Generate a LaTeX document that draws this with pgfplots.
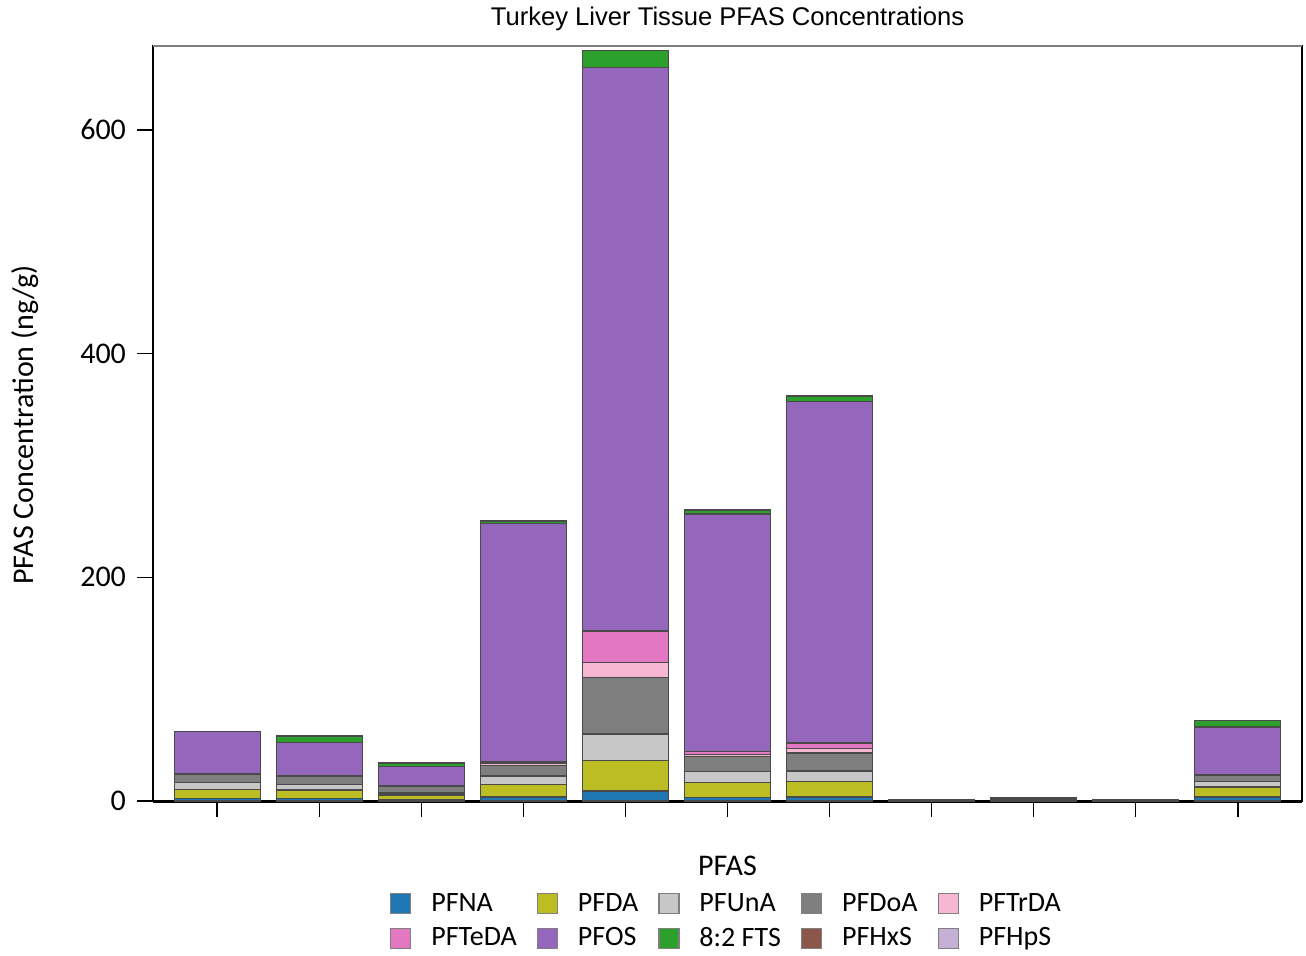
\documentclass[border=0pt]{standalone}
\usepackage{fontspec}
\setmainfont{Carlito}
\newfontfamily\titlefont{Liberation Sans}
\usepackage{pgfplots}
\pgfplotsset{compat=1.18}
\usepackage{pgfplotstable}

\definecolor{cPFNA}{HTML}{1F77B4}
\definecolor{cPFDA}{HTML}{BCBD22}
\definecolor{cPFUnA}{HTML}{C7C7C7}
\definecolor{cPFDoA}{HTML}{7F7F7F}
\definecolor{cPFTrDA}{HTML}{F7B6D2}
\definecolor{cPFTeDA}{HTML}{E377C2}
\definecolor{cPFOS}{HTML}{9467BD}
\definecolor{cFTS}{HTML}{2CA02C}
\definecolor{cPFHxS}{HTML}{8C564B}
\definecolor{cPFHpS}{HTML}{C5B0D5}
\definecolor{edgec}{HTML}{4A4A4A}

\pgfplotstableread{
x  PFNA PFDA PFUnA PFDoA PFTrDA PFTeDA PFOS  FTS PFHxS PFHpS
0  2.5  8.0  6.0   7.0   0.5    0.3    38.0  0.0 0 0
1  2.5  7.5  4.5   7.5   0.5    0.3    29.7  5.5 0 0
2  1.5  4.0  1.5   5.8   0.3    0.2    17.7  3.0 0 0
3  3.5  11.5 7.5   9.5   2.0    1.5    212.5 2.5 0 0
4  9.0  27.0 24.0  50.5  13.5   28.0   504.0 15.0 0 0
5  3.3  13.0 10.0  13.4  2.0    2.5    212.5 3.3 0 0
6  3.5  14.0 9.5   16.0  4.0    5.0    305.0 5.0 0 0
7  0.2  0.3  0.2   0.5   0.0    0.0    0.3   0.0 0 0
8  0.4  0.6  0.4   0.8   0.0    0.0    0.8   0.0 0 0
9  0.2  0.3  0.2   0.5   0.0    0.0    0.3   0.0 0 0
10 3.5  9.0  5.0   5.5   0.5    0.3    42.2  6.0 0 0
}\data

\begin{document}
\begin{tikzpicture}
\useasboundingbox (-76.5pt,-77pt) rectangle (576.5pt,400.5pt);
\begin{axis}[
  at={(0pt,0pt)}, anchor=south west,
  scale only axis, width=574.5pt, height=377.5pt,
  ybar stacked, bar width=43pt,
  xmin=-0.63, xmax=10.63, ymin=0, ymax=675,
  xtick={0,...,10}, xticklabels={},
  ytick={0,200,400,600},
  tick align=outside, major tick length=8pt,
  xtick pos=bottom, ytick pos=left,
  tick style={black, line width=0.8pt},
  axis line style={black, line width=0.8pt},
  /pgf/number format/assume math mode=true,
  tick label style={font=\fontsize{15}{18}\selectfont},
  yticklabel style={xshift=-2pt},
  ylabel={PFAS Concentration (ng/g)},
  ylabel style={font=\fontsize{15}{18}\selectfont, at={(axis description cs:-0.111,0.498)}, anchor=center},
  xlabel={PFAS},
  xlabel style={font=\fontsize{15}{18}\selectfont, at={(axis description cs:0.5,-0.086)}, anchor=center},
  legend columns=5,
  legend style={at={(0.5,-0.111)}, anchor=north, draw=none, fill=none,
    font=\fontsize{14}{17}\selectfont, column sep=8pt, row sep=2.5pt,
    /tikz/every even column/.append style={column sep=8pt}},
  legend image code/.code={\draw[#1, draw=gray, line width=0.6pt] (0pt,-5pt) rectangle (10pt,5pt);},
  every axis plot/.append style={draw=edgec, line width=0.7pt},
  legend cell align=left,
  clip=false,
]
\addplot[fill=cPFNA] table[x=x,y=PFNA]{\data}; \addlegendentry{PFNA}
\addplot[fill=cPFDA] table[x=x,y=PFDA]{\data}; \addlegendentry{PFDA}
\addplot[fill=cPFUnA] table[x=x,y=PFUnA]{\data}; \addlegendentry{PFUnA}
\addplot[fill=cPFDoA] table[x=x,y=PFDoA]{\data}; \addlegendentry{PFDoA}
\addplot[fill=cPFTrDA] table[x=x,y=PFTrDA]{\data}; \addlegendentry{PFTrDA}
\addplot[fill=cPFTeDA] table[x=x,y=PFTeDA]{\data}; \addlegendentry{PFTeDA}
\addplot[fill=cPFOS] table[x=x,y=PFOS]{\data}; \addlegendentry{PFOS}
\addplot[fill=cFTS] table[x=x,y=FTS]{\data}; \addlegendentry{8:2 FTS}
\addplot[fill=cPFHxS] table[x=x,y=PFHxS]{\data}; \addlegendentry{PFHxS}
\addplot[fill=cPFHpS] table[x=x,y=PFHpS]{\data}; \addlegendentry{PFHpS}
\draw[black, line width=1.5pt] (rel axis cs:0,0) -- (rel axis cs:1,0);
\draw[gray, line width=1.2pt] (rel axis cs:0,1) -- (rel axis cs:1,1);
\node[anchor=center, font=\titlefont\fontsize{12.8}{15}\selectfont] at ([yshift=13.5pt]rel axis cs:0.5,1) {Turkey Liver Tissue PFAS Concentrations};
\end{axis}
\end{tikzpicture}
\end{document}
